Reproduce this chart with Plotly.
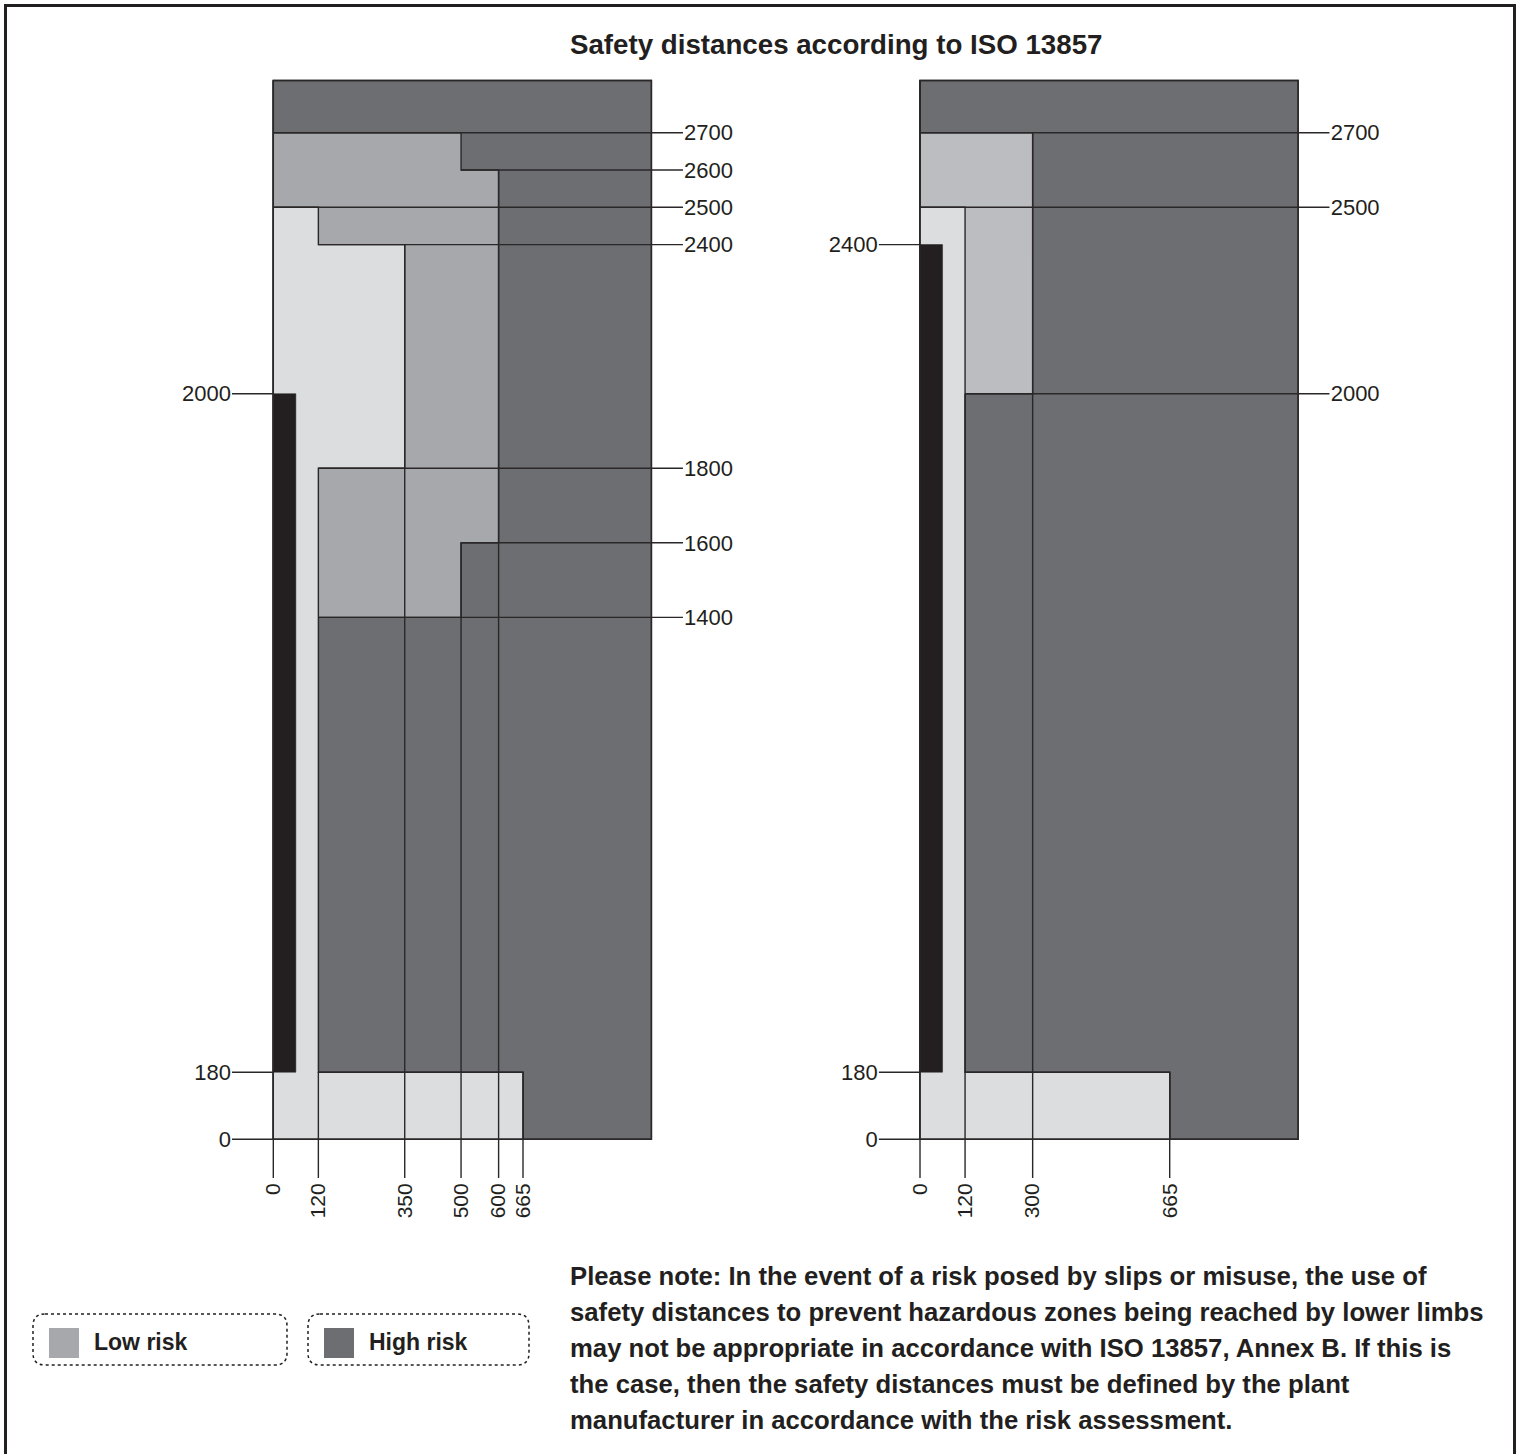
import plotly.graph_objects as go

# ---------------- data (millimetres) ----------------
# Left diagram: horizontal bands and how far each zone reaches in each band
L_BAND_EDGES = [0, 180, 1400, 1600, 1800, 2400, 2500, 2600, 2700, 2840]
L_LIGHT_REACH = [665, 120, 120, 120, 350, 120, 0, 0, 0]
L_LOW_REACH = [665, 120, 500, 600, 600, 600, 600, 500, 0]
L_BARRIER_TOP = 2000
L_LEFT_TICKS = [0, 180, 2000]
L_RIGHT_TICKS = [1400, 1600, 1800, 2400, 2500, 2600, 2700]
L_RIGHT_FROM = [120, 500, 120, 120, 0, 500, 0]
L_BOTTOM_TICKS = [0, 120, 350, 500, 600, 665]
L_BOTTOM_TO = [0, 180, 2400, 1600, 2600, 180]

# Right diagram
R_BAND_EDGES = [0, 180, 2000, 2500, 2700, 2840]
R_LIGHT_REACH = [665, 120, 120, 0, 0]
R_LOW_REACH = [665, 120, 300, 300, 0]
R_BARRIER_TOP = 2400
R_LEFT_TICKS = [0, 180, 2400]
R_RIGHT_TICKS = [2000, 2500, 2700]
R_RIGHT_FROM = [120, 0, 0]
R_BOTTOM_TICKS = [0, 120, 300, 665]
R_BOTTOM_TO = [0, 2000, 2700, 180]

BARRIER_BOTTOM = 180
BARRIER_WIDTH = 60
WALL_RIGHT = 1007
WALL_TOP = 2840

TITLE = "Safety distances according to ISO 13857"
NOTE_LINES = [
    "Please note: In the event of a risk posed by slips or misuse, the use of",
    "safety distances to prevent hazardous zones being reached by lower limbs",
    "may not be appropriate in accordance with ISO 13857, Annex B. If this is",
    "the case, then the safety distances must be defined by the plant",
    "manufacturer in accordance with the risk assessment.",
]
LEGEND_LABELS = ["Low risk", "High risk"]

# ---------------- styles / layout ----------------
W, H = 1519, 1454
C_HIGH = "#6d6e71"
C_LOW_L = "#a7a8ab"
C_LOW_R = "#bcbdc0"
C_LIGHT = "#dcdddf"
C_BLACK = "#231f20"
C_LINE = "#2a2728"
LW = 1.4
FONT = "Liberation Sans, Arial, sans-serif"

PX = 0.3755   # px per mm, horizontal
PY = 0.3728   # px per mm, vertical
X_RANGE = [-110, 1091]
Y_RANGE = [-104, 2860]
ORIGIN_L = (273.3, 1139.3)
ORIGIN_R = (920.0, 1139.3)


def px_x(p):
    return p / W


def px_y(p):
    return 1 - p / H


def xdomain(origin_x):
    return [px_x(origin_x + X_RANGE[0] * PX), px_x(origin_x + X_RANGE[1] * PX)]


YDOM = [px_y(ORIGIN_L[1] - Y_RANGE[0] * PY), px_y(ORIGIN_L[1] - Y_RANGE[1] * PY)]


def reach_polygon(edges, reach):
    xs, ys = [0], [edges[0]]
    for i, r in enumerate(reach):
        xs += [r, r]
        ys += [edges[i], edges[i + 1]]
    xs += [0, 0]
    ys += [edges[-1], edges[0]]
    return xs, ys


fig = go.Figure()


def add_panel(xa, ya, edges, light, low, low_color, barrier_top,
              right_ticks, right_from, bottom_ticks, bottom_to, left_ticks):
    # high-risk background wall
    fig.add_trace(go.Scatter(
        x=[0, WALL_RIGHT, WALL_RIGHT, 0, 0], y=[0, 0, WALL_TOP, WALL_TOP, 0],
        fill="toself", fillcolor=C_HIGH, mode="lines",
        line=dict(color=C_LINE, width=LW), xaxis=xa, yaxis=ya,
        hoverinfo="skip", showlegend=False))
    # low-risk zone
    lx, ly = reach_polygon(edges, low)
    fig.add_trace(go.Scatter(
        x=lx, y=ly, fill="toself", fillcolor=low_color, mode="lines",
        line=dict(color=C_LINE, width=LW), xaxis=xa, yaxis=ya,
        hoverinfo="skip", showlegend=False))
    # free / light zone
    gx, gy = reach_polygon(edges, light)
    fig.add_trace(go.Scatter(
        x=gx, y=gy, fill="toself", fillcolor=C_LIGHT, mode="lines",
        line=dict(color=C_LINE, width=LW), xaxis=xa, yaxis=ya,
        hoverinfo="skip", showlegend=False))
    # leader lines
    xs, ys = [], []
    for v, f in zip(right_ticks, right_from):
        xs += [f, X_RANGE[1], None]
        ys += [v, v, None]
    for v, t in zip(bottom_ticks, bottom_to):
        xs += [v, v, None]
        ys += [Y_RANGE[0], t, None]
    for v in left_ticks:
        xs += [X_RANGE[0], 0, None]
        ys += [v, v, None]
    fig.add_trace(go.Scatter(
        x=xs, y=ys, mode="lines", line=dict(color=C_LINE, width=LW),
        xaxis=xa, yaxis=ya, hoverinfo="skip", showlegend=False))
    # barrier
    fig.add_trace(go.Scatter(
        x=[0, BARRIER_WIDTH, BARRIER_WIDTH, 0, 0],
        y=[BARRIER_BOTTOM, BARRIER_BOTTOM, barrier_top, barrier_top, BARRIER_BOTTOM],
        fill="toself", fillcolor=C_BLACK, mode="lines",
        line=dict(color=C_BLACK, width=0.5), xaxis=xa, yaxis=ya,
        hoverinfo="skip", showlegend=False))
    # wall outline on top
    fig.add_trace(go.Scatter(
        x=[0, WALL_RIGHT, WALL_RIGHT, 0, 0], y=[0, 0, WALL_TOP, WALL_TOP, 0],
        mode="lines", line=dict(color=C_LINE, width=LW), xaxis=xa, yaxis=ya,
        hoverinfo="skip", showlegend=False))


add_panel("x", "y", L_BAND_EDGES, L_LIGHT_REACH, L_LOW_REACH, C_LOW_L, L_BARRIER_TOP,
          L_RIGHT_TICKS, L_RIGHT_FROM, L_BOTTOM_TICKS, L_BOTTOM_TO, L_LEFT_TICKS)
add_panel("x2", "y2", R_BAND_EDGES, R_LIGHT_REACH, R_LOW_REACH, C_LOW_R, R_BARRIER_TOP,
          R_RIGHT_TICKS, R_RIGHT_FROM, R_BOTTOM_TICKS, R_BOTTOM_TO, R_LEFT_TICKS)

tick_font = dict(family=FONT, size=22, color=C_BLACK)
bottom_font = dict(family=FONT, size=21, color=C_BLACK)
common_x = dict(range=X_RANGE, showgrid=False, zeroline=False, showline=False,
                ticks="", tickangle=-90, tickfont=bottom_font, fixedrange=True)
common_y = dict(range=Y_RANGE, showgrid=False, zeroline=False, showline=False,
                ticks="", tickfont=tick_font, fixedrange=True)

fig.update_layout(
    width=W, height=H, margin=dict(l=0, r=0, t=0, b=0),
    paper_bgcolor="white", plot_bgcolor="rgba(0,0,0,0)", showlegend=False,
    xaxis=dict(domain=xdomain(ORIGIN_L[0]), anchor="y", tickvals=L_BOTTOM_TICKS,
               ticktext=[str(v) for v in L_BOTTOM_TICKS], **common_x),
    yaxis=dict(domain=YDOM, anchor="x", tickvals=L_LEFT_TICKS,
               ticktext=[str(v) for v in L_LEFT_TICKS], side="left", **common_y),
    yaxis3=dict(overlaying="y", anchor="x", side="right", tickvals=L_RIGHT_TICKS,
                ticktext=[str(v) for v in L_RIGHT_TICKS], **common_y),
    xaxis2=dict(domain=xdomain(ORIGIN_R[0]), anchor="y2", tickvals=R_BOTTOM_TICKS,
                ticktext=[str(v) for v in R_BOTTOM_TICKS], **common_x),
    yaxis2=dict(domain=YDOM, anchor="x2", tickvals=R_LEFT_TICKS,
                ticktext=[str(v) for v in R_LEFT_TICKS], side="left", **common_y),
    yaxis4=dict(overlaying="y2", anchor="x2", side="right", tickvals=R_RIGHT_TICKS,
                ticktext=[str(v) for v in R_RIGHT_TICKS], **common_y),
)

# dummy traces so that the right-hand axes render their ticks
fig.add_trace(go.Scatter(x=[None], y=[None], xaxis="x", yaxis="y3", showlegend=False))
fig.add_trace(go.Scatter(x=[None], y=[None], xaxis="x2", yaxis="y4", showlegend=False))

annotations = []
shapes = []

# title
annotations.append(dict(text="<b>" + TITLE + "</b>", x=px_x(836), y=px_y(45),
                        xref="paper", yref="paper", xanchor="center", yanchor="middle",
                        showarrow=False, font=dict(family=FONT, size=27.7, color=C_BLACK)))
# note
for i, line in enumerate(NOTE_LINES):
    annotations.append(dict(text="<b>" + line + "</b>", x=px_x(568), y=px_y(1276 + 36 * i),
                            xref="paper", yref="paper", xanchor="left", yanchor="middle",
                            showarrow=False, font=dict(family=FONT, size=25.7, color=C_BLACK)))


def rounded_rect(x0, y0, x1, y1, r):
    pts = [
        ("M", [(x0 + r, y0)]), ("L", [(x1 - r, y0)]), ("Q", [(x1, y0), (x1, y0 + r)]),
        ("L", [(x1, y1 - r)]), ("Q", [(x1, y1), (x1 - r, y1)]), ("L", [(x0 + r, y1)]),
        ("Q", [(x0, y1), (x0, y1 - r)]), ("L", [(x0, y0 + r)]), ("Q", [(x0, y0), (x0 + r, y0)]),
    ]
    s = ""
    for cmd, ps in pts:
        s += cmd + " " + " ".join(f"{px_x(a):.6f},{px_y(b):.6f}" for a, b in ps) + " "
    return s + "Z"


legend_boxes = [(33, 287), (308, 529)]
legend_colors = [C_LOW_L, C_HIGH]
for (bx0, bx1), col, lab in zip(legend_boxes, legend_colors, LEGEND_LABELS):
    shapes.append(dict(type="path", path=rounded_rect(bx0, 1314, bx1, 1365, 12),
                       xref="paper", yref="paper",
                       line=dict(color=C_BLACK, width=1.5, dash="dot")))
    shapes.append(dict(type="rect", xref="paper", yref="paper",
                       x0=px_x(bx0 + 16), x1=px_x(bx0 + 46), y0=px_y(1358), y1=px_y(1328),
                       fillcolor=col, line=dict(width=0)))
    annotations.append(dict(text="<b>" + lab + "</b>", x=px_x(bx0 + 59), y=px_y(1342),
                            xref="paper", yref="paper", xanchor="left", yanchor="middle",
                            showarrow=False, font=dict(family=FONT, size=23, color=C_BLACK)))

# outer frame
shapes.append(dict(type="rect", xref="paper", yref="paper",
                   x0=px_x(5.5), x1=px_x(1514.5), y0=px_y(1470), y1=px_y(5.5),
                   line=dict(color=C_BLACK, width=3), fillcolor="rgba(0,0,0,0)"))

fig.update_layout(annotations=annotations, shapes=shapes)

fig.write_html("out.html", config={"displayModeBar": False},
               post_script="document.body.style.margin='0px';")
